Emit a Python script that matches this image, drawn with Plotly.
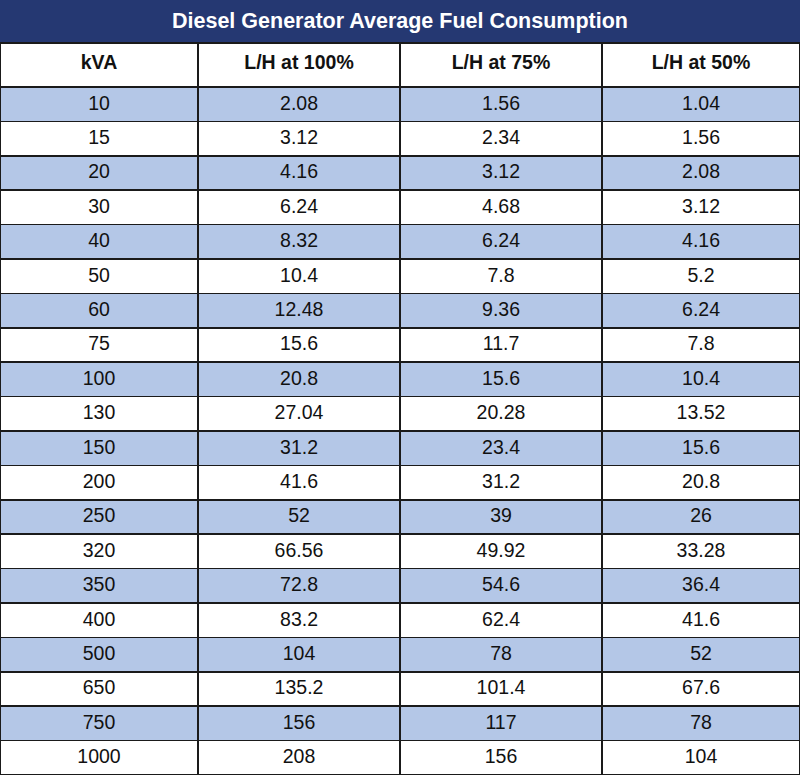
import plotly.graph_objects as go

# Table data
title = "Diesel Generator Average Fuel Consumption"
columns = ["kVA", "L/H at 100%", "L/H at 75%", "L/H at 50%"]
kva = ["10", "15", "20", "30", "40", "50", "60", "75", "100", "130",
       "150", "200", "250", "320", "350", "400", "500", "650", "750", "1000"]
lh_100 = ["2.08", "3.12", "4.16", "6.24", "8.32", "10.4", "12.48", "15.6", "20.8", "27.04",
          "31.2", "41.6", "52", "66.56", "72.8", "83.2", "104", "135.2", "156", "208"]
lh_75 = ["1.56", "2.34", "3.12", "4.68", "6.24", "7.8", "9.36", "11.7", "15.6", "20.28",
         "23.4", "31.2", "39", "49.92", "54.6", "62.4", "78", "101.4", "117", "156"]
lh_50 = ["1.04", "1.56", "2.08", "3.12", "4.16", "5.2", "6.24", "7.8", "10.4", "13.52",
         "15.6", "20.8", "26", "33.28", "36.4", "41.6", "52", "67.6", "78", "104"]

W, H = 800, 775
title_h = 43
navy = "#253872"
stripe = ["#B4C7E7" if i % 2 == 0 else "white" for i in range(len(kva))]
font = "Liberation Sans, Arial"

fig = go.Figure(go.Table(
    domain=dict(x=[0, 1], y=[0, 1 - title_h / H]),
    columnwidth=[198, 202, 202, 198],
    header=dict(
        values=["<b>%s</b>" % c for c in columns],
        fill_color="white",
        line=dict(color="#1a1a1a", width=1.5),
        font=dict(family=font, size=19.5, color="#111111"),
        align="center",
        height=44,
    ),
    cells=dict(
        values=[kva, lh_100, lh_75, lh_50],
        fill_color=[stripe] * 4,
        line=dict(color="#1a1a1a", width=1.5),
        font=dict(family=font, size=19.5, color="#111111"),
        align="center",
        height=34.4,
    ),
))

# title bar
fig.add_shape(type="rect", xref="paper", yref="paper",
              x0=0, x1=1, y0=1 - title_h / H, y1=1,
              fillcolor=navy, line=dict(width=0), layer="below")
fig.add_annotation(text="<b>%s</b>" % title, xref="paper", yref="paper",
                   x=0.5, y=1 - title_h / 2 / H, yanchor="middle", showarrow=False,
                   font=dict(family=font, size=21.5, color="white"))

fig.update_layout(width=W, height=H, margin=dict(l=0, r=0, t=0, b=0),
                  paper_bgcolor="white")

fig.write_html("out.html", config={"displayModeBar": False},
               post_script="document.body.style.margin='0';")
